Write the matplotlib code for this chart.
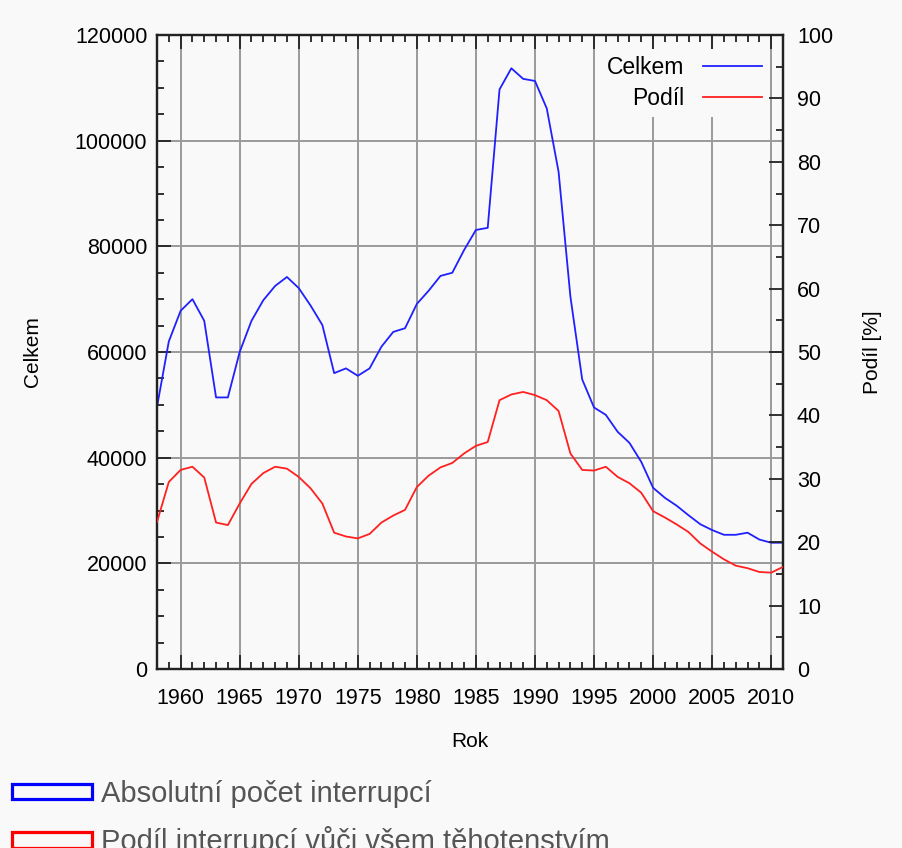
import matplotlib.pyplot as plt
from matplotlib.lines import Line2D
from matplotlib.patches import Patch
from matplotlib.ticker import MultipleLocator

plt.rcParams['font.family'] = ['Liberation Sans', 'DejaVu Sans']

# data (potraty v CR)
years = list(range(1958, 2012))
celkem = [49600, 62000, 67800, 70000, 65900, 51400, 51400, 60000, 65900, 69800,
          72500, 74200, 72100, 68800, 65100, 56000, 56900, 55500, 56900, 61000,
          63800, 64500, 69100, 71600, 74400, 75000, 79300, 83100, 83500, 109700,
          113700, 111700, 111300, 106100, 94100, 70500, 54800, 49500, 48100, 44900,
          42800, 39200, 34300, 32400, 30900, 29100, 27400, 26300, 25400, 25400,
          25800, 24500, 23900, 23900]
podil = [23.2, 29.5, 31.4, 31.9, 30.2, 23.1, 22.7, 26.1, 29.2, 30.9,
         31.9, 31.6, 30.3, 28.5, 26.1, 21.5, 20.9, 20.6, 21.3, 23.1,
         24.2, 25.1, 28.7, 30.5, 31.8, 32.5, 34.0, 35.2, 35.8, 42.4,
         43.3, 43.7, 43.2, 42.4, 40.7, 34.0, 31.4, 31.3, 31.9, 30.3,
         29.3, 27.8, 24.9, 23.9, 22.8, 21.6, 19.8, 18.5, 17.3, 16.3,
         15.9, 15.3, 15.2, 16.1]
series_names = ['Celkem', 'Podíl']
bottom_labels = ['Absolutní počet interrupcí', 'Podíl interrupcí vůči všem těhotenstvím']

bg = '#f9f9f9'
blue = '#2020ff'
red = '#ff2020'

fig = plt.figure(figsize=(9.03, 8.48), dpi=100, facecolor=bg)
ax1 = fig.add_axes([157 / 903, 1 - 669 / 848, 626 / 903, 634 / 848])
ax1.set_facecolor(bg)
ax2 = ax1.twinx()

ax1.plot(years, celkem, color=blue, lw=1.3, zorder=3)
ax2.plot(years, podil, color=red, lw=1.3, zorder=3)

ax1.set_xlim(1958, 2011)
ax1.set_ylim(0, 120000)
ax2.set_ylim(0, 100)

ax1.xaxis.set_major_locator(MultipleLocator(5))
ax1.xaxis.set_minor_locator(MultipleLocator(1))
ax1.yaxis.set_major_locator(MultipleLocator(20000))
ax1.yaxis.set_minor_locator(MultipleLocator(5000))
ax2.yaxis.set_major_locator(MultipleLocator(10))
ax2.yaxis.set_minor_locator(MultipleLocator(5))

ax1.grid(True, which='major', color='#9a9a9a', lw=1.4)
ax1.set_axisbelow(True)

ax1.tick_params(which='both', direction='in', top=True, right=False, width=1.3, color='#222222')
ax1.tick_params(which='major', length=10, labelsize=15.5)
ax1.tick_params(which='minor', length=5)
ax1.tick_params(axis='x', pad=14)
ax1.tick_params(axis='y', pad=7)
ax2.tick_params(which='both', direction='in', width=1.3, color='#222222')
ax2.tick_params(which='major', length=10, labelsize=15.5, pad=10)
ax2.tick_params(which='minor', length=5)

for ax in (ax1, ax2):
    for s in ax.spines.values():
        s.set_linewidth(1.6)
        s.set_color('#222222')

ax1.set_ylabel('Celkem', fontsize=15)
ax1.yaxis.set_label_coords(-0.184, 0.5)
ax2.set_ylabel('Podíl [%]', fontsize=15)
ax2.yaxis.set_label_coords(1.128, 0.5)
ax1.set_xlabel('Rok', fontsize=15)
ax1.xaxis.set_label_coords(0.5, -0.1)

handles = [Line2D([], [], color=blue, lw=1.3, label=series_names[0]),
           Line2D([], [], color=red, lw=1.3, label=series_names[1])]
leg = ax2.legend(handles=handles, loc='upper right', markerfirst=False, fontsize=16.5,
                 frameon=True, facecolor=bg, edgecolor='none', framealpha=1, fancybox=False,
                 handlelength=2.6, borderpad=0.3, borderaxespad=0.6, labelspacing=0.35)

pad = [Patch(facecolor='none', edgecolor='blue', lw=2.3, label=bottom_labels[0]),
       Patch(facecolor='none', edgecolor='red', lw=2.3, label=bottom_labels[1])]
fig.legend(handles=pad, loc='upper left', bbox_to_anchor=(12 / 903, 1 - 780 / 848),
           frameon=False, fontsize=21, labelcolor='#555555', handlelength=2.75,
           handleheight=0.45, handletextpad=0.3, borderpad=0, borderaxespad=0,
           labelspacing=0.62)

fig.savefig('out.png', dpi=100, facecolor=bg)
